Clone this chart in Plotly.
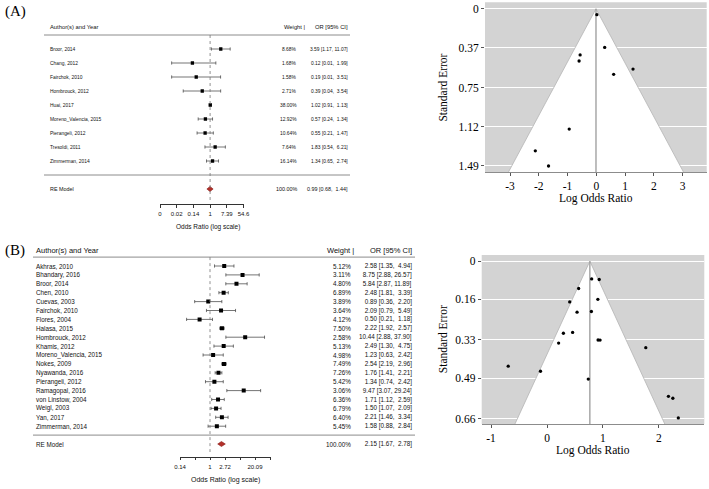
import numpy as np
import plotly.graph_objects as go

W, H = 709, 489

# ---------------- Panel A data ----------------
a_studies = ["Broor, 2014", "Chang, 2012", "Fairchok, 2010", "Hombrouck, 2012", "Huai, 2017",
             "Moreno_Valencia, 2015", "Pierangeli, 2012", "Tresoldi, 2011", "Zimmerman, 2014"]
a_weight = [8.68, 1.68, 1.58, 2.71, 38.00, 12.92, 10.64, 7.64, 16.14]
a_or = [3.59, 0.12, 0.19, 0.39, 1.02, 0.57, 0.55, 1.83, 1.34]
a_lo = [1.17, 0.01, 0.01, 0.04, 0.91, 0.24, 0.21, 0.54, 0.65]
a_hi = [11.07, 1.99, 3.51, 3.54, 1.13, 1.34, 1.47, 6.21, 2.74]
a_re = [0.99, 0.68, 1.44]
a_re_weight = 100.00
a_xticks = [-6, -4, -2, 0, 2, 4]
a_xticktext = ["0", "0.02", "0.14", "1", "7.39", "54.6"]
a_fun_yticks = [0, 0.37, 0.75, 1.12, 1.49]
a_fun_yticktext = ["0", "0.37", "0.75", "1.12", "1.49"]
a_fun_xticks = [-3, -2, -1, 0, 1, 2, 3]
a_fun_xticktext = ["-3", "-2", "-1", "0", "1", "2", "3"]

# ---------------- Panel B data ----------------
b_studies = ["Akhras, 2010", "Bhandary, 2016", "Broor, 2014", "Chen, 2010", "Cuevas, 2003",
             "Fairchok, 2010", "Flores, 2004", "Halasa, 2015", "Hombrouck, 2012", "Khamis, 2012",
             "Moreno_Valencia, 2015", "Nokes, 2009", "Nyawanda, 2016", "Pierangeli, 2012",
             "Ramagopal, 2016", "von Linstow, 2004", "Weigl, 2003", "Yan, 2017", "Zimmerman, 2014"]
b_weight = [5.12, 3.11, 4.80, 6.89, 3.89, 3.64, 4.12, 7.50, 2.58, 5.13, 4.98, 7.49, 7.26, 5.42,
            3.06, 6.36, 6.79, 6.40, 5.45]
b_or = [2.58, 8.75, 5.84, 2.48, 0.89, 2.09, 0.50, 2.22, 10.44, 2.49, 1.23, 2.54, 1.76, 1.34,
        9.47, 1.71, 1.50, 2.21, 1.58]
b_lo = [1.35, 2.88, 2.87, 1.81, 0.36, 0.79, 0.21, 1.92, 2.88, 1.30, 0.63, 2.19, 1.41, 0.74,
        3.07, 1.12, 1.07, 1.46, 0.88]
b_hi = [4.94, 26.57, 11.89, 3.39, 2.20, 5.49, 1.18, 2.57, 37.90, 4.75, 2.42, 2.96, 2.21, 2.42,
        29.24, 2.59, 2.09, 3.34, 2.84]
b_re = [2.15, 1.67, 2.78]
b_re_weight = 100.00
b_xticks = [-2, -1, 0, 1, 2, 3, 4]
b_xticktext = ["0.14", "", "1", "2.72", "", "20.09", ""]
b_fun_yticks = [0, 0.16, 0.33, 0.49, 0.66]
b_fun_yticktext = ["0", "0.16", "0.33", "0.49", "0.66"]
b_fun_xticks = [-1, 0, 1, 2]
b_fun_xticktext = ["-1", "0", "1", "2"]

SANS = "Liberation Sans, Arial, Helvetica, sans-serif"
SERIF = "Liberation Serif, Times New Roman, serif"
TXT = "#111111"


def fx(p):
    return p / W


def fy(p):
    return 1 - p / H


fig = go.Figure()
annotations = []
shapes = []


def nb(s):
    return s.replace(" ", "\u00a0")


def ci_strings(ors, los, his, re):
    allo = list(ors) + [re[0]]
    alll = list(los) + [re[1]]
    allh = list(his) + [re[2]]
    wo = max(len(f"{v:.2f}") for v in allo)
    wl = max(len(f"{v:.2f}") for v in alll)
    wh = max(len(f"{v:.2f}") for v in allh)
    out = []
    for o, l, h in zip(allo, alll, allh):
        s = f"{o:.2f}".rjust(wo) + " [" + f"{l:.2f}".rjust(wl) + ", " + f"{h:.2f}".rjust(wh) + "]"
        out.append(nb(s))
    return out


def forest(studies, weights, ors, los, his, re, re_w, xa, ya, g):
    k = len(studies)
    rows = np.arange(k, 0, -1)
    lx = np.log(ors)
    llo = np.log(los)
    lhi = np.log(his)
    fig.add_trace(go.Scatter(
        x=lx, y=rows, mode="markers",
        marker=dict(symbol="square", size=g["msize"], color="black", line=dict(width=0)),
        error_x=dict(type="data", symmetric=False, array=lhi - lx, arrayminus=lx - llo,
                     color="#3a3a3a", thickness=0.7, width=g["cap"]),
        xaxis=xa, yaxis=ya, showlegend=False, hoverinfo="skip"))
    rl = np.log(re)
    h = g["dh"]
    fig.add_trace(go.Scatter(
        x=[rl[1], rl[0], rl[2], rl[0], rl[1]], y=[-1, -1 + h, -1, -1 - h, -1],
        mode="lines", fill="toself", fillcolor="#b3302a", line=dict(color="#8a1f1a", width=0.6),
        xaxis=xa, yaxis=ya, showlegend=False, hoverinfo="skip"))
    yref = ya
    xref = xa
    for r in (k + 1, 0):
        shapes.append(dict(type="line", xref="paper", yref=yref, x0=fx(g["lx0"]), x1=fx(g["lx1"]),
                           y0=r, y1=r, line=dict(color="#8c8c8c", width=1)))
    shapes.append(dict(type="line", xref=xref, yref=yref, x0=0, x1=0, y0=k + 1, y1=g["refbot"],
                       line=dict(color="#777777", width=0.8, dash="dot")))
    cis = ci_strings(ors, los, his, re)
    for i, s in enumerate(studies):
        r = k - i
        annotations.append(dict(x=fx(g["labx"]), y=r, xref="paper", yref=yref, text=s,
                                xanchor="left", yanchor="middle", showarrow=False,
                                font=dict(family=SANS, size=g["fs"], color=TXT)))
        annotations.append(dict(x=fx(g["wx"]), y=r, xref="paper", yref=yref, text=f"{weights[i]:.2f}%",
                                xanchor="right", yanchor="middle", showarrow=False,
                                font=dict(family=SANS, size=g["fs"], color=TXT)))
        annotations.append(dict(x=fx(g["cix"]), y=r, xref="paper", yref=yref, text=cis[i],
                                xanchor="right", yanchor="middle", showarrow=False,
                                font=dict(family=SANS, size=g["fs"], color=TXT)))
    annotations.append(dict(x=fx(g["labx"]), y=-1, xref="paper", yref=yref, text="RE Model",
                            xanchor="left", yanchor="middle", showarrow=False,
                            font=dict(family=SANS, size=g["fsre"], color=TXT)))
    annotations.append(dict(x=fx(g["wx"]), y=-1, xref="paper", yref=yref, text=f"{re_w:.2f}%",
                            xanchor="right", yanchor="middle", showarrow=False,
                            font=dict(family=SANS, size=g["fsre"], color=TXT)))
    annotations.append(dict(x=fx(g["cix"]), y=-1, xref="paper", yref=yref, text=cis[-1],
                            xanchor="right", yanchor="middle", showarrow=False,
                            font=dict(family=SANS, size=g["fsre"], color=TXT)))
    annotations.append(dict(x=fx(g["labx"]), y=fy(g["hy"]), xref="paper", yref="paper",
                            text="Author(s) and Year", xanchor="left", yanchor="middle", showarrow=False,
                            font=dict(family=SANS, size=g["fsh"], color=TXT)))
    annotations.append(dict(x=fx(g["whx"]), y=fy(g["hy"]), xref="paper", yref="paper",
                            text="Weight |", xanchor="right", yanchor="middle", showarrow=False,
                            font=dict(family=SANS, size=g["fsh"], color=TXT)))
    annotations.append(dict(x=fx(g["cix"]), y=fy(g["hy"]), xref="paper", yref="paper",
                            text=nb("OR [95% CI]"), xanchor="right", yanchor="middle", showarrow=False,
                            font=dict(family=SANS, size=g["fsh"], color=TXT)))
    annotations.append(dict(x=fx(g["tx"]), y=fy(g["ty"]), xref="paper", yref="paper",
                            text="Odds Ratio (log scale)", xanchor="center", yanchor="middle",
                            showarrow=False, font=dict(family=SANS, size=g["fst"], color=TXT)))


def funnel(ors, los, his, re, xa, ya, yb):
    yi = np.log(ors)
    sei = (np.log(his) - np.log(los)) / (2 * 1.96)
    est = np.log(re[0])
    fig.add_trace(go.Scatter(
        x=[est - 1.96 * yb, est, est + 1.96 * yb], y=[yb, 0, yb], mode="lines",
        fill="toself", fillcolor="white", line=dict(color="#b4b4b4", width=0.8),
        xaxis=xa, yaxis=ya, showlegend=False, hoverinfo="skip"))
    fig.add_trace(go.Scatter(
        x=[est, est], y=[0, yb], mode="lines", line=dict(color="#9a9a9a", width=1.3),
        xaxis=xa, yaxis=ya, showlegend=False, hoverinfo="skip"))
    fig.add_trace(go.Scatter(
        x=yi, y=sei, mode="markers", marker=dict(size=3.3, color="black"),
        xaxis=xa, yaxis=ya, showlegend=False, hoverinfo="skip"))
    shapes.append(dict(type="rect", xref=xa + " domain", yref=ya + " domain", x0=0, x1=1, y0=0, y1=1,
                       fillcolor="#d3d3d3", line=dict(width=0), layer="below"))


gA = dict(msize=3.3, cap=1.6, dh=0.18, lx0=44, lx1=350, refbot=-1.8, labx=48, wx=299, cix=350,
          whx=307, hy=27, tx=208, ty=226.5, fs=4.9, fsre=5.4, fsh=5.8, fst=6.5)
gB = dict(msize=4.0, cap=1.6, dh=0.28, lx0=33, lx1=415, refbot=-1.9, labx=34, wx=353, cix=414,
          whx=356, hy=251, tx=225, ty=480, fs=6.3, fsre=6.3, fsh=7.5, fst=7.0)

forest(a_studies, a_weight, a_or, a_lo, a_hi, a_re, a_re_weight, "x", "y", gA)
forest(b_studies, b_weight, b_or, b_lo, b_hi, b_re, b_re_weight, "x2", "y2", gB)

A_YB = 1.555
B_YB = 0.683
funnel(a_or, a_lo, a_hi, a_re, "x3", "y3", A_YB)
funnel(b_or, b_lo, b_hi, b_re, "x4", "y4", B_YB)

annotations.append(dict(x=fx(3), y=fy(12), xref="paper", yref="paper", text="(A)", xanchor="left",
                        yanchor="middle", showarrow=False, font=dict(family=SERIF, size=15, color="black")))
annotations.append(dict(x=fx(3), y=fy(250), xref="paper", yref="paper", text="(B)", xanchor="left",
                        yanchor="middle", showarrow=False, font=dict(family=SERIF, size=15, color="black")))

for (xc, yc, rx, ry) in [(595.8, 198.3, 443.3, 87.3), (593.0, 450.0, 442.7, 339.5)]:
    annotations.append(dict(x=fx(xc), y=fy(yc), xref="paper", yref="paper", text="Log Odds Ratio",
                            xanchor="center", yanchor="middle", showarrow=False,
                            font=dict(family=SERIF, size=11.5, color="black")))
    annotations.append(dict(x=fx(rx), y=fy(ry), xref="paper", yref="paper", text="Standard Error",
                            xanchor="center", yanchor="middle", showarrow=False, textangle=-90,
                            font=dict(family=SERIF, size=11.5, color="black")))


def row_range(p_row0, s, top_px, bot_px):
    return [(p_row0 - bot_px) / s, (p_row0 - top_px) / s]


forest_x = dict(showline=True, linecolor="#333333", linewidth=0.8, ticks="outside", ticklen=3,
                tickwidth=0.8, tickcolor="#333333", showgrid=False, zeroline=False, automargin=False,
                tickfont=dict(family=SANS, size=6, color=TXT), ticklabelstandoff=1)
hidden_y = dict(visible=False, showgrid=False, zeroline=False, automargin=False)

fun_x = dict(showline=True, linecolor="#8c8c8c", linewidth=1, ticks="outside", ticklen=3,
             tickwidth=1, tickcolor="#555555", showgrid=False, zeroline=False, automargin=False,
             tickfont=dict(family=SERIF, size=11.5, color="black"))
fun_y = dict(showline=False, ticks="outside", ticklen=3, tickwidth=1, tickcolor="#555555",
             showgrid=True, gridcolor="white", gridwidth=1, zeroline=False, automargin=False,
             tickfont=dict(family=SERIF, size=11.5, color="black"), ticklabelstandoff=0)

fig.update_layout(
    width=W, height=H, margin=dict(l=0, r=0, t=0, b=0, pad=0),
    paper_bgcolor="white", plot_bgcolor="rgba(0,0,0,0)", showlegend=False,
    xaxis=dict(domain=[fx(160), fx(243.5)], range=[-6, 4], tickvals=a_xticks, ticktext=a_xticktext,
               anchor="y", **forest_x),
    yaxis=dict(domain=[fy(204), fy(20)], range=row_range(175, 14, 20, 204), anchor="x", **hidden_y),
    xaxis2=dict(domain=[fx(180), fx(270)], range=[-2, 4], tickvals=b_xticks, ticktext=b_xticktext,
                anchor="y2", **forest_x),
    yaxis2=dict(domain=[fy(456.5), fy(245)], range=row_range(435.1, 8.9, 245, 456.5), anchor="x2",
                **hidden_y),
    xaxis3=dict(domain=[fx(485), fx(706.7)], range=[-3.87, 3.84], tickvals=a_fun_xticks,
                ticktext=a_fun_xticktext, anchor="y3", **fun_x),
    yaxis3=dict(domain=[fy(172.3), fy(2.3)], range=[A_YB, -0.062], tickvals=a_fun_yticks,
                ticktext=a_fun_yticktext, anchor="x3", **fun_y),
    xaxis4=dict(domain=[fx(481.7), fx(704.3)], range=[-1.167, 2.81], tickvals=b_fun_xticks,
                ticktext=b_fun_xticktext, anchor="y4", **fun_x),
    yaxis4=dict(domain=[fy(424), fy(255)], range=[B_YB, -0.026], tickvals=b_fun_yticks,
                ticktext=b_fun_yticktext, anchor="x4", **fun_y),
    annotations=annotations, shapes=shapes,
)

fig.write_html("out.html", config={"displayModeBar": False},
               post_script="document.body.style.margin='0';document.body.style.overflow='hidden';")
